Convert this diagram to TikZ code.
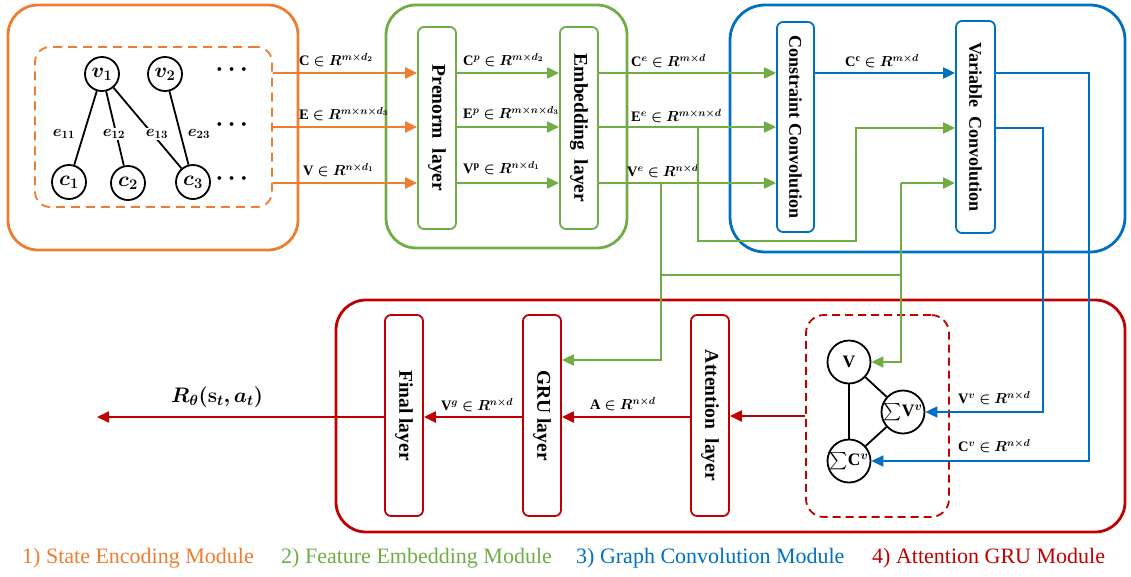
\documentclass[tikz,border=0pt]{standalone}
\usepackage{fix-cm}
\usepackage{amsmath,bm}
\usepackage{fontspec}
\setmainfont{Liberation Serif}
\usetikzlibrary{arrows.meta}

\definecolor{cOrange}{HTML}{ED7D31}
\definecolor{cGreen}{HTML}{70AD47}
\definecolor{cBlue}{HTML}{0070C0}
\definecolor{cRed}{HTML}{C00000}

\begin{document}
\begin{tikzpicture}[x=1pt,y=-1pt,
  module/.style={line width=2.8pt, rounded corners=30pt},
  layerbox/.style={draw, line width=1.8pt, rounded corners=6pt, minimum width=38pt, inner sep=0pt},
  vtext/.style={rotate=-90, font=\fontsize{19.5}{20}\selectfont\bfseries, inner sep=0pt},
  flow/.style={line width=2pt, -{Triangle[length=12pt,width=11pt]}},
  wire/.style={line width=2pt},
  gnode/.style={circle, draw, line width=1.8pt, minimum size=34pt, inner sep=0pt, font=\fontsize{21}{22}\selectfont},
  tnode/.style={gnode, minimum size=43pt, inner sep=-2pt, font=\fontsize{17.5}{18}\selectfont},
  gedge/.style={line width=1.8pt},
  elabel/.style={font=\fontsize{16}{17}\selectfont, inner sep=1pt},
  dim/.style={font=\fontsize{14.5}{16}\selectfont, inner sep=1pt, anchor=west},
  dotsn/.style={font=\fontsize{24}{24}\selectfont},
  legend/.style={font=\fontsize{22}{24}\selectfont, anchor=west, inner sep=0pt}
]
\useasboundingbox (0,0) rectangle (1131,576);

% module frames
\draw[cOrange, module] (8,5) rectangle (298,250);
\draw[cGreen, module] (386,5) rectangle (627,248);
\draw[cBlue, module, rounded corners=35pt] (730,5) rectangle (1125,252);
\draw[cRed, module] (336,300) rectangle (1125,532);

% ---- state encoding: bipartite graph
\node[draw=cOrange, dashed, dash pattern=on 9pt off 6pt, line width=1.8pt, rounded corners=15pt,
      minimum width=237pt, minimum height=160pt] (graph) at (153.5,127) {};
\node[gnode] (v1) at (102,74) {$\bm{v_1}$};
\node[gnode] (v2) at (165,74) {$\bm{v_2}$};
\node[gnode] (c1) at (69,182) {$\bm{c_1}$};
\node[gnode] (c2) at (128,183) {$\bm{c_2}$};
\node[gnode] (c3) at (193,182) {$\bm{c_3}$};
\node[dotsn] (d1) at (234,70) {$\bm{\cdots}$};
\node[dotsn] (d2) at (234,125) {$\bm{\cdots}$};
\node[dotsn] (d3) at (234,179) {$\bm{\cdots}$};
\draw[gedge] (v1) -- (c1);
\draw[gedge] (v1) -- (c2);
\draw[gedge] (v1) -- (c3);
\draw[gedge] (v2) -- (c3);
\node[elabel] (l11) at (64,134) {$\bm{e_{11}}$};
\node[elabel, fill=white] (l12) at (114,134) {$\bm{e_{12}}$};
\node[elabel, fill=white] (l13) at (157,134) {$\bm{e_{13}}$};
\node[elabel] (l23) at (199,134) {$\bm{e_{23}}$};

% ---- feature embedding layers
\node[layerbox, draw=cGreen, minimum height=202pt] (pre) at (437,128) {};
\node[vtext] (preT) at (pre) {Prenorm\ \ layer};
\node[layerbox, draw=cGreen, minimum height=202pt] (emb) at (579,128) {};
\node[vtext] (embT) at (emb) {Embedding\ \ layer};

% ---- graph convolution layers
\node[layerbox, draw=cBlue, minimum height=210pt, minimum width=37pt] (conC) at (795.5,127) {};
\node[vtext, font=\fontsize{18}{18}\selectfont\bfseries] (conCT) at (conC) {Constraint Convolution};
\node[layerbox, draw=cBlue, minimum height=212pt, minimum width=39pt] (var) at (975.5,127) {};
\node[vtext, font=\fontsize{18}{18}\selectfont\bfseries] (varT) at (var) {Variable\ \ Convolution};

% ---- attention GRU layers
\node[layerbox, draw=cRed, minimum height=201pt] (fin) at (404,415.5) {};
\node[vtext] (finT) at (fin) {Final layer};
\node[layerbox, draw=cRed, minimum height=201pt] (gru) at (542,415.5) {};
\node[vtext] (gruT) at (gru) {GRU layer};
\node[layerbox, draw=cRed, minimum height=201pt] (att) at (710,415.5) {};
\node[vtext] (attT) at (att) {Attention\ \ layer};

\node[draw=cRed, dashed, dash pattern=on 8pt off 5pt, line width=1.8pt, rounded corners=18pt,
      minimum width=143pt, minimum height=202pt] (rdash) at (877.5,416) {};
\node[tnode] (V) at (849,362) {$\mathbf{V}$};
\node[tnode] (SV) at (903,412) {$\textstyle\sum\!\mathbf{V}^{\bm{v}}$};
\node[tnode] (SC) at (849,461) {$\textstyle\sum\!\mathbf{C}^{\bm{v}}$};
\draw[gedge] (V) -- (SV);
\draw[gedge] (V) -- (SC);
\draw[gedge] (SV) -- (SC);

% ---- orange inputs
\draw[flow, cOrange, line width=2.4pt] (graph.east |- 0,73) -- (pre.west |- 0,73);
\draw[flow, cOrange, line width=2.4pt] (graph.east |- 0,127) -- (pre.west |- 0,127);
\draw[flow, cOrange, line width=2.4pt] (graph.east |- 0,183) -- (pre.west |- 0,183);
\node[dim] (dC) at (298,60) {$\mathbf{C}\bm{\in}\bm{R}^{\bm{m\times d_2}}$};
\node[dim] (dE) at (298,114) {$\mathbf{E}\bm{\in}\bm{R}^{\bm{m\times n\times d_3}}$};
\node[dim] (dV) at (302,170) {$\mathbf{V}\bm{\in}\bm{R}^{\bm{n\times d_1}}$};

% ---- prenorm -> embedding
\draw[flow, cGreen] (pre.east |- 0,73) -- (emb.west |- 0,73);
\draw[flow, cGreen] (pre.east |- 0,127) -- (emb.west |- 0,127);
\draw[flow, cGreen] (pre.east |- 0,183) -- (emb.west |- 0,183);
\node[dim] (dCp) at (462,60) {$\mathbf{C}^{\bm{p}}\bm{\in}\bm{R}^{\bm{m\times d_2}}$};
\node[dim] (dEp) at (462,113) {$\mathbf{E}^{\bm{p}}\bm{\in}\bm{R}^{\bm{m\times n\times d_3}}$};
\node[dim] (dVp) at (462,168) {$\mathbf{V}^{\mathbf{p}}\bm{\in}\bm{R}^{\bm{n\times d_1}}$};

% ---- embedding -> constraint convolution
\draw[flow, cGreen] (emb.east |- 0,73) -- (conC.west |- 0,73);
\draw[flow, cGreen] (emb.east |- 0,127) -- (conC.west |- 0,127);
\draw[flow, cGreen] (emb.east |- 0,183) -- (conC.west |- 0,183);
\node[dim] (dCe) at (630,61) {$\mathbf{C}^{\bm{e}}\bm{\in}\bm{R}^{\bm{m\times d}}$};
\node[dim] (dEe) at (630,116) {$\mathbf{E}^{\bm{e}}\bm{\in}\bm{R}^{\bm{m\times n\times d}}$};
\node[dim] (dVe) at (626,171) {$\mathbf{V}^{\bm{e}}\bm{\in}\bm{R}^{\bm{n\times d}}$};

% ---- branches of the embedded features
\coordinate (eBr) at (698,127);
\coordinate (vBr) at (661,183);
\coordinate (vJoin) at (901,183);
\draw[flow, cGreen] (eBr) -- (698,241) -- (856,241) -- (856,128) -- (var.west |- 0,128);
\draw[flow, cGreen] (vBr) -- (661,360) -- (gru.east |- 0,360);
\draw[wire, cGreen] (661,275) -- (901,275);
\draw[flow, cGreen] (vJoin) -- (var.west |- vJoin);
\draw[flow, cGreen] (vJoin) |- (V.east);

% ---- convolution outputs
\draw[flow, cBlue] (conC.east |- 0,73) -- (var.west |- 0,73);
\node[dim] (dCc) at (844,61) {$\mathbf{C}^{\mathbf{c}}\bm{\in}\bm{R}^{\bm{m\times d}}$};
\draw[flow, cBlue] (var.east |- 0,73) -- (1089,73) |- (SC.east);
\draw[flow, cBlue] (var.east |- 0,128) -- (1043,128) |- (SV.east);
\node[dim] (dVv) at (957,398) {$\mathbf{V}^{\bm{v}}\bm{\in}\bm{R}^{\bm{n\times d}}$};
\node[dim] (dCv) at (957,446) {$\mathbf{C}^{\bm{v}}\bm{\in}\bm{R}^{\bm{n\times d}}$};

% ---- attention GRU chain
\coordinate (out) at (97,417);
\draw[flow, cRed, line width=2.2pt] (rdash.west) -- (rdash.west -| att.east);
\draw[flow, cRed, line width=2.2pt] (att.west |- 0,417) -- (gru.east |- 0,417);
\draw[flow, cRed, line width=2.2pt] (gru.west |- 0,417) -- (fin.east |- 0,417);
\draw[flow, cRed, line width=2.2pt] (fin.west |- 0,417) -- (out);
\node[dim] (dA) at (589,404) {$\mathbf{A}\bm{\in}\bm{R}^{\bm{n\times d}}$};
\node[dim] (dVg) at (440,405) {$\mathbf{V}^{\bm{g}}\bm{\in}\bm{R}^{\bm{n\times d}}$};
\node[font=\fontsize{21}{22}\selectfont] (dR) at (217,397) {$\bm{R_\theta(\mathbf{s}_t,a_t)}$};

% ---- legend
\node[legend, text=cOrange] (lg1) at (22,558) {1) State Encoding Module};
\node[legend, text=cGreen] (lg2) at (281,558) {2) Feature Embedding Module};
\node[legend, text=cBlue] (lg3) at (576,558) {3) Graph Convolution Module};
\node[legend, text=cRed] (lg4) at (872,558) {4) Attention GRU Module};
\end{tikzpicture}
\end{document}
